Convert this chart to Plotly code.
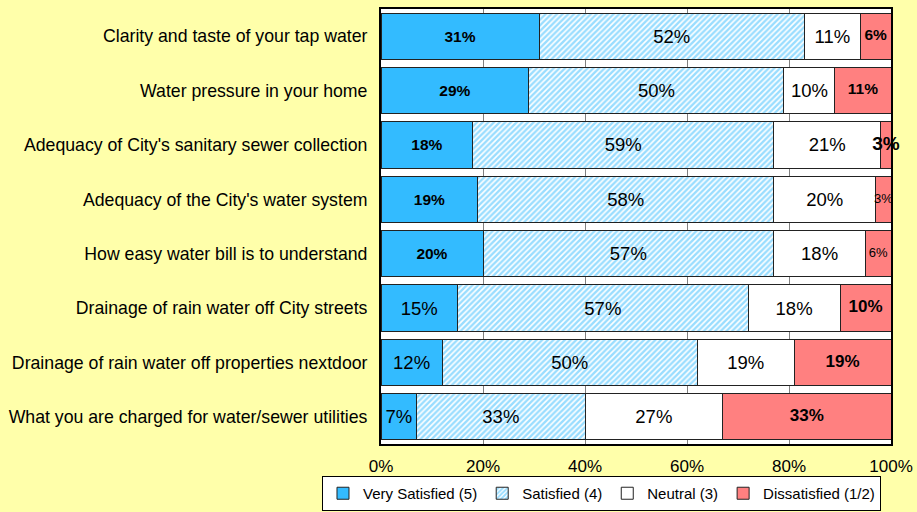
import plotly.graph_objects as go

# Survey items, listed top to bottom
categories = [
    "Clarity and taste of your tap water",
    "Water pressure in your home",
    "Adequacy of City's sanitary sewer collection",
    "Adequacy of the City's water system",
    "How easy water bill is to understand",
    "Drainage of rain water off City streets",
    "Drainage of rain water off properties nextdoor",
    "What you are charged for water/sewer utilities",
]

# Percent of respondents per rating
very_satisfied = [31, 29, 18, 19, 20, 15, 12, 7]
satisfied = [52, 50, 59, 58, 57, 57, 50, 33]
neutral = [11, 10, 21, 20, 18, 18, 19, 27]
dissatisfied = [6, 11, 3, 3, 6, 10, 19, 33]

series_names = ["Very Satisfied (5)", "Satisfied (4)", "Neutral (3)", "Dissatisfied (1/2)"]
tick_values = [0, 20, 40, 60, 80, 100]
tick_labels = [f"{v}%" for v in tick_values]
AXIS_MAX = 100

# Label styling per segment: (bold, font size)
very_sat_style = [(True, 15.5), (True, 15.5), (True, 15.5), (True, 15.5), (True, 15.5),
                  (False, 18.5), (False, 18.5), (False, 18.5)]
plain_style = [(False, 18.5)] * 8
dissat_style = [(True, 15.5), (True, 15.5), (True, 19), (False, 13), (False, 13),
                (True, 17), (True, 17), (True, 17)]

FONT = "Liberation Sans, Arial, sans-serif"
BG = "#FFFFAA"
BLUE = "#33BBFF"
RED = "#FF8080"
EDGE = dict(color="#222222", width=1)


def labels(values, style):
    out = []
    for v, (bold, _) in zip(values, style):
        t = f"{v}%"
        out.append(f"<b>{t}</b>" if bold else t)
    return out


fig = go.Figure()

series = [
    (very_satisfied, very_sat_style, dict(color=BLUE)),
    (satisfied, plain_style, dict(color="white",
                                  pattern=dict(shape="/", fgcolor=BLUE, bgcolor="white",
                                               size=4, solidity=0.6))),
    (neutral, plain_style, dict(color="white")),
    (dissatisfied, dissat_style, dict(color=RED)),
]

for idx, (name, (vals, style, marker)) in enumerate(zip(series_names, series)):
    last = idx == len(series) - 1
    fig.add_trace(go.Bar(
        name=name,
        y=categories,
        x=vals,
        orientation="h",
        marker=dict(marker, line=EDGE),
        # the last segment's labels are placed separately below
        text=None if last else labels(vals, style),
        textposition="none" if last else "inside",
        insidetextanchor="middle",
        constraintext="none",
        textangle=0,
        cliponaxis=False,
        textfont=dict(family=FONT, color="black", size=[s for _, s in style]),
        hoverinfo="skip",
    ))

# Dissatisfied labels, centred on the visible part of each segment
bases = [a + b + c for a, b, c in zip(very_satisfied, satisfied, neutral)]
label_x = [(b + min(b + d, AXIS_MAX)) / 2 for b, d in zip(bases, dissatisfied)]
fig.add_trace(go.Scatter(
    x=label_x,
    y=categories,
    mode="text",
    text=labels(dissatisfied, dissat_style),
    textposition="middle center",
    textfont=dict(family=FONT, color="black", size=[s for _, s in dissat_style]),
    cliponaxis=False,
    showlegend=False,
    hoverinfo="skip",
))

fig.update_layout(
    barmode="stack",
    bargap=0.15,
    width=917,
    height=512,
    margin=dict(l=381, r=26, t=9, b=68, autoexpand=False),
    paper_bgcolor=BG,
    plot_bgcolor="white",
    font=dict(family=FONT, color="black", size=17),
    showlegend=True,
    legend=dict(
        orientation="h",
        x=-0.1157, xanchor="left",
        y=-0.154, yanchor="bottom",
        bgcolor="white",
        bordercolor="black",
        borderwidth=1,
        font=dict(size=15),
        traceorder="normal",
        itemclick=False,
    ),
)

fig.update_xaxes(
    range=[0, AXIS_MAX],
    tickvals=tick_values,
    ticktext=tick_labels,
    automargin=False,
    showgrid=True,
    gridcolor="#808080",
    gridwidth=1,
    zeroline=False,
    showline=True,
    linecolor="black",
    linewidth=2,
    mirror=True,
    ticks="outside",
    ticklen=6,
    tickcolor="rgba(0,0,0,0)",
    tickfont=dict(size=17),
)

fig.update_yaxes(
    autorange="reversed",
    automargin=False,
    showgrid=False,
    showline=True,
    linecolor="black",
    linewidth=2,
    mirror=True,
    ticks="outside",
    ticklen=8,
    tickcolor="rgba(0,0,0,0)",
    tickfont=dict(size=17.7),
)

fig.write_html("out.html")
